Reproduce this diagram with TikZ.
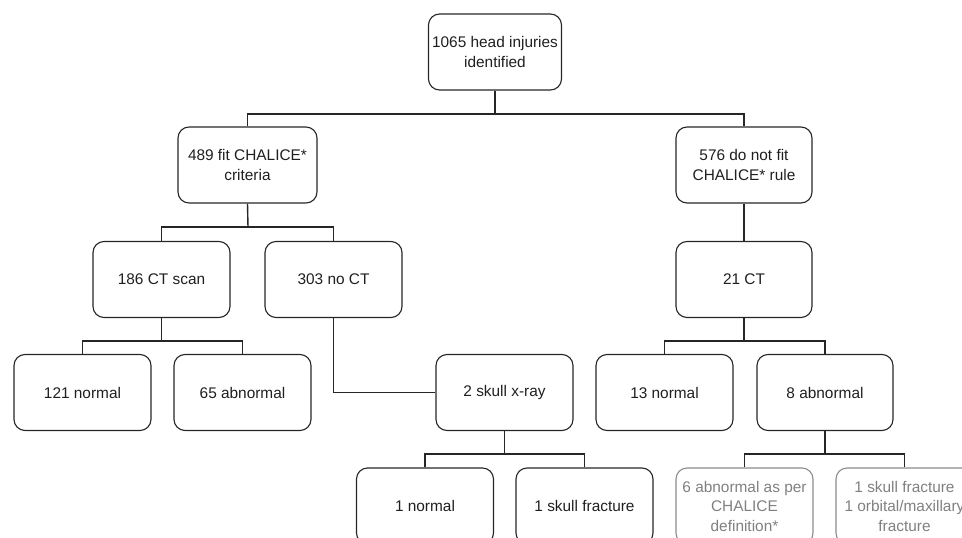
\documentclass[tikz,border=0pt]{standalone}
\usepackage{fontspec}
\setmainfont{Liberation Sans}
\begin{document}
\begin{tikzpicture}[x=1pt,y=-1pt,
  box/.style={draw=black!85, line width=1.1pt, rounded corners=11pt,
    minimum width=137pt, minimum height=76pt, align=center, inner sep=2pt,
    font=\fontsize{15.4}{19.5}\selectfont, text=black!88},
  graybox/.style={box, draw=black!45, text=black!50},
  conn/.style={draw=black!85, line width=1.4pt}]
\path[use as bounding box, clip] (0,0) rectangle (962,538);
% level 0
\node[box, minimum width=133pt] (top) at (495,52) {1065 head injuries\\identified};
% level 1
\node[box, minimum width=139pt] (fit) at (247.5,165) {489 fit CHALICE*\\criteria};
\node[box, minimum width=136pt] (notfit) at (744,165) {576 do not fit\\CHALICE* rule};
% level 2
\node[box] (ct) at (161.5,279.5) {186 CT scan};
\node[box] (noct) at (333.5,279.5) {303 no CT};
\node[box, minimum width=136pt] (ct21) at (744,279.5) {21 CT};
% level 3
\node[box] (n121) at (82.5,392.5) {121 normal};
\node[box] (a65) at (242.5,392.5) {65 abnormal};
\node[box] (xray) at (504.5,392.5) {2 skull x-ray};
\node[box] (n13) at (664.5,392.5) {13 normal};
\node[box, minimum width=136pt] (a8) at (825,392.5) {8 abnormal};
% level 4
\node[box] (n1) at (425,506) {1 normal};
\node[box] (sf1) at (584.5,506) {1 skull fracture};
\node[graybox] (g6) at (744.5,506) {6 abnormal as per\\CHALICE\\definition*};
\node[graybox] (g1) at (904.5,506) {1 skull fracture\\1 orbital/maxillary\\fracture};
% junctions
\coordinate (j1) at (495,114);
\coordinate (j2) at (248,227);
\coordinate (j3) at (161.5,341);
\coordinate (j5) at (744,341);
\coordinate (j4) at (504.5,454);
\coordinate (j6) at (825,454);
% connectors
\draw[conn] (top.south) -- (j1);
\draw[conn] (fit.north) |- (j1) -| (notfit.north);
\draw[conn] (fit.south) -- (j2);
\draw[conn] (ct.north) |- (j2) -| (noct.north);
\draw[conn] (notfit.south) -- (ct21.north);
\draw[conn] (ct.south) -- (j3);
\draw[conn] (n121.north) |- (j3) -| (a65.north);
\draw[conn] (noct.south) |- (xray.west);
\draw[conn] (ct21.south) -- (j5);
\draw[conn] (n13.north) |- (j5) -| (a8.north);
\draw[conn] (xray.south) -- (j4);
\draw[conn] (n1.north) |- (j4) -| (sf1.north);
\draw[conn] (a8.south) -- (j6);
\draw[conn] (g6.north) |- (j6) -| (g1.north);
\end{tikzpicture}
\end{document}
